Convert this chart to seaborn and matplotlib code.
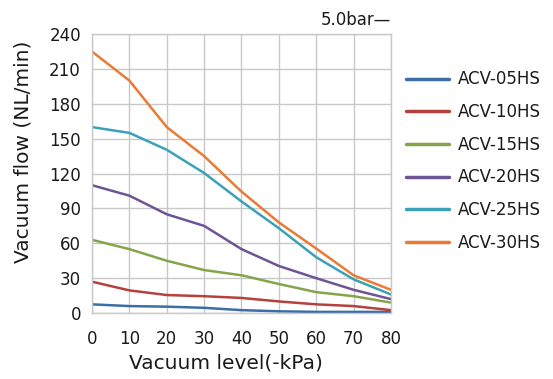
import matplotlib
matplotlib.use('Agg')
import matplotlib.pyplot as plt
import pandas as pd
import seaborn as sns

vacuum = [0, 10, 20, 30, 40, 50, 60, 70, 80]
models = ['ACV-05HS', 'ACV-10HS', 'ACV-15HS', 'ACV-20HS', 'ACV-25HS', 'ACV-30HS']
acv05 = [7.5, 6, 5.5, 4.5, 2.5, 1.5, 1, 1, 1]
acv10 = [27, 19.5, 15.5, 14.5, 13, 10, 7.5, 6, 2.5]
acv15 = [63, 55, 45, 37, 32.5, 25, 18, 14.5, 9]
acv20 = [110, 101, 85, 75, 55, 40.5, 30, 20, 12]
acv25 = [160, 155, 140.5, 120.5, 96, 73, 48, 29, 16]
acv30 = [225, 200, 160, 135, 104.5, 78, 55.5, 32.5, 20]

colors = ['#3b6ea6', '#b5413e', '#86a449', '#6d5495', '#3aa1b9', '#e97b35']


def main():
    sns.set_theme(style='whitegrid')
    plt.rcParams['font.family'] = ['DejaVu Sans']

    series = [acv05, acv10, acv15, acv20, acv25, acv30]
    df = pd.DataFrame({
        'x': vacuum * len(models),
        'y': [v for s in series for v in s],
        'model': [m for m in models for _ in vacuum],
    })

    fig = plt.figure(figsize=(5.53, 3.79), dpi=100)
    ax = fig.add_axes([0.1664, 0.174, 0.5406, 0.736])
    sns.lineplot(data=df, x='x', y='y', hue='model', hue_order=models,
                 palette=colors, linewidth=1.8, ax=ax)

    ax.set_xlim(0, 80)
    ax.set_ylim(0, 240)
    ax.set_xticks(vacuum)
    ax.set_yticks(range(0, 241, 30))
    ax.grid(True, color='#c8c8c8', linewidth=1)
    for s in ax.spines.values():
        s.set_color('#c8c8c8')
        s.set_linewidth(1)
    ax.tick_params(axis='both', labelsize=12, colors='#1a1a1a', length=0)
    ax.tick_params(axis='x', pad=12)
    ax.tick_params(axis='y', pad=8)
    ax.set_xlabel('Vacuum level(-kPa)', fontsize=14.5, color='#1a1a1a')
    ax.set_ylabel('Vacuum flow (NL/min)', fontsize=14.5, color='#1a1a1a')
    ax.xaxis.set_label_coords(0.448, -0.145)
    ax.yaxis.set_label_coords(-0.2, 0.577)
    ax.text(1.0, 1.02, '5.0bar—', transform=ax.transAxes, ha='right', va='bottom',
            fontsize=12, color='#1a1a1a')

    leg = ax.legend(loc='center left', bbox_to_anchor=(1.0, 0.545), frameon=False,
                    fontsize=12, handlelength=2.6, handletextpad=0.5,
                    labelspacing=0.88, title=None)
    for t in leg.get_texts():
        t.set_color('#1a1a1a')
    for line in leg.get_lines():
        line.set_linewidth(2.5)

    fig.savefig('out.png', dpi=100)
    plt.close(fig)


if __name__ == '__main__':
    main()
